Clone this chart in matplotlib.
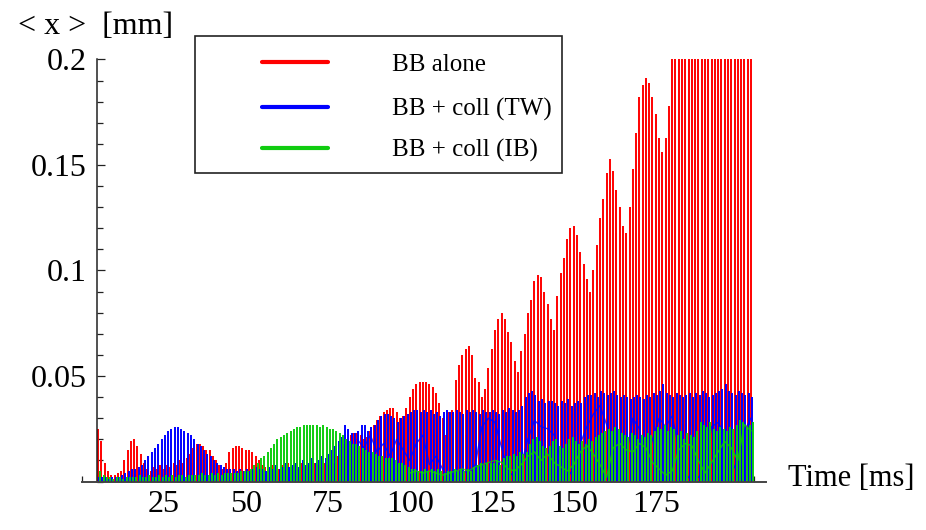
import matplotlib.pyplot as plt
import numpy as np
from matplotlib.lines import Line2D
from matplotlib.patches import Rectangle
from matplotlib.ticker import MultipleLocator

plt.rcParams['font.family'] = ['Liberation Serif', 'DejaVu Serif']

# turn-by-turn beam centroid, one oscillation peak per ms starting at t0 (values in um)
t0 = 5
red_peak = [
    25, 19, 9, 5, 3, 3, 4, 5, 10, 15,
    19, 20, 17, 13, 9, 6, 5, 7, 6, 8,
    6, 8, 7, 9, 8, 10, 9, 11, 13, 16,
    18, 18, 17, 15, 15, 12, 10, 8, 6, 9,
    14, 16, 17, 17, 16, 15, 15, 14, 12, 10,
    8, 7, 6, 8, 7, 6, 8, 7, 9, 7,
    8, 6, 9, 7, 8, 6, 9, 8, 7, 9,
    8, 10, 9, 12, 15, 18, 20, 22, 23, 23,
    22, 20, 21, 24, 27, 29, 31, 33, 34, 35,
    35, 33, 30, 31, 35, 40, 44, 46, 47, 47,
    47, 46, 45, 42, 37, 30, 22, 33, 34, 48,
    55, 60, 63, 64, 60, 49, 47, 40, 44, 54,
    63, 72, 77, 80, 77, 71, 66, 57, 52, 62,
    70, 80, 86, 95, 98, 97, 90, 84, 77, 72,
    88, 99, 106, 115, 120, 121, 117, 109, 103, 96,
    90, 100, 112, 125, 134, 146, 153, 147, 138, 130,
    121, 118, 130, 148, 165, 182, 188, 191, 189, 182,
    174, 163, 156, 163, 178, 215, 260, 240, 300, 280,
    250, 320, 290, 270, 340, 300, 260, 310, 350, 280,
    330, 290, 360, 310, 270, 340, 300, 380, 320, 290,
]
blue_peak = [
    2, 2, 2, 1, 2, 2, 2, 3, 4, 5,
    6, 6, 7, 8, 10, 12, 14, 16, 18, 20,
    22, 24, 25, 26, 26, 25, 24, 23, 22, 20,
    18, 17, 15, 13, 12, 10, 9, 8, 7, 6,
    6, 6, 5, 6, 5, 6, 5, 6, 7, 6,
    6, 5, 7, 6, 8, 6, 7, 9, 7, 8,
    9, 7, 10, 8, 9, 11, 9, 10, 12, 11,
    13, 15, 17, 19, 21, 27, 25, 23, 23, 24,
    27, 27, 24, 26, 27, 29, 31, 32, 32, 31,
    30, 28, 30, 31, 32, 33, 34, 34, 33, 34,
    33, 34, 32, 33, 31, 33, 34, 33, 33, 34,
    33, 32, 34, 33, 34, 33, 32, 34, 33, 33,
    34, 33, 32, 34, 33, 35, 34, 33, 34, 36,
    40, 42, 43, 41, 38, 39, 37, 38, 38, 37,
    36, 38, 37, 39, 36, 37, 38, 37, 40, 41,
    41, 42, 40, 43, 42, 41, 42, 43, 41, 40,
    41, 40, 39, 40, 41, 40, 39, 41, 40, 42,
    41, 43, 46, 42, 41, 40, 42, 41, 40, 41,
    42, 40, 42, 41, 43, 42, 40, 41, 42, 43,
    44, 46, 43, 42, 41, 43, 42, 41, 42, 40,
]
green_peak = [
    5, 3, 2, 2, 1, 2, 2, 1, 2, 2,
    2, 2, 3, 2, 2, 3, 2, 2, 3, 2,
    3, 2, 3, 2, 3, 3, 2, 3, 3, 3,
    3, 4, 3, 3, 4, 3, 4, 3, 4, 4,
    4, 4, 4, 5, 5, 5, 6, 8, 9, 11,
    12, 14, 16, 18, 20, 21, 22, 23, 24, 25,
    26, 26, 27, 27, 27, 27, 27, 26, 27, 26,
    25, 25, 24, 23, 22, 20, 19, 18, 18, 17,
    16, 15, 14, 14, 13, 12, 12, 11, 11, 11,
    10, 9, 9, 8, 7, 6, 6, 5, 5, 6,
    5, 6, 5, 6, 5, 4, 5, 5, 6, 5,
    6, 5, 6, 5, 7, 8, 9, 8, 9, 9,
    9, 10, 8, 11, 12, 12, 13, 12, 14, 13,
    14, 18, 20, 21, 19, 17, 16, 17, 19, 20,
    17, 16, 18, 20, 21, 19, 18, 19, 18, 20,
    19, 21, 22, 23, 24, 25, 24, 26, 25, 23,
    22, 21, 23, 22, 20, 22, 21, 23, 22, 24,
    26, 25, 27, 24, 26, 25, 22, 24, 20, 23,
    22, 21, 24, 28, 27, 26, 28, 25, 24, 26,
    25, 24, 26, 25, 27, 29, 28, 26, 27, 28,
]

# slowly drifting samples that show up as a wandering curve (every 2 ms, um)
blue_slow_t0 = 84
blue_slow = [
    20, 16, 22, 14, 18, 12, 20, 15, 10, 18, 22, 8, 12, 6, 1, 3, 5, 4, 8, 26,
    30, 28, 16, 5, 2, 8, 20, 29, 26, 25, 22, 12, 2, 6, 18, 26, 32, 36, 27, 18,
    3, 12, 30, 25, 8, 20, 30, 26, 31, 16, 4, 0, 2, 6, 26, 28, 22, 4, 10, 24, 30,
]
green_slow_t0 = 100
green_slow = [
    4, 5, 4, 5, 4, 3, 4, 5, 6, 5, 7, 8, 9, 10, 9,
    6, 5, 8, 12, 14, 10, 13, 9, 7, 5, 8, 14, 17, 13, 8,
    2, 16, 18, 15, 14, 18, 16, 9, 6, 3, 5, 15, 18, 17, 10,
    4, 9, 14, 19, 16, 10, 27, 24,
]

labels = ['BB alone', 'BB + coll (TW)', 'BB + coll (IB)']
colors = ['#ff0000', '#0000ff', '#10cc10']

fig = plt.figure(figsize=(9.26, 5.30), dpi=100)
W, H = 926, 530
ax = fig.add_axes([81.7 / W, 48.5 / H, 684.3 / W, 422 / H])

# each oscillation peak is drawn as a spike from the axis; series are staggered a little in time
for peaks, shift, c in zip([red_peak, blue_peak, green_peak], [0.0, 0.33, 0.66], colors):
    p = np.asarray(peaks, float) * 1e-3
    t = t0 + shift + np.arange(len(p))
    ax.vlines(t, 0, p, color=c, lw=1.4)
    if c == colors[1]:
        ts = blue_slow_t0 + 2 * np.arange(len(blue_slow))
        ax.plot(ts, np.asarray(blue_slow) * 1e-3, color=c, lw=1.0, alpha=0.8)
    if c == colors[2]:
        ts = green_slow_t0 + 2 * np.arange(len(green_slow))
        ax.plot(ts, np.asarray(green_slow) * 1e-3, color=c, lw=1.0, alpha=0.8)

ax.set_xlim(0, 208.6)
ax.set_ylim(0, 0.2)

for s in ['top', 'right']:
    ax.spines[s].set_visible(False)
ax.spines['left'].set_position(('data', 4.8))
ax.spines['left'].set_color('#222222')
ax.spines['bottom'].set_color('#444444')
ax.spines['left'].set_linewidth(1.1)
ax.spines['bottom'].set_linewidth(1.4)

ax.set_xticks([25, 50, 75, 100, 125, 150, 175])
ax.xaxis.set_minor_locator(MultipleLocator(5))
ax.set_yticks([0.05, 0.1, 0.15, 0.2])
ax.set_yticklabels(['0.05', '0.1', '0.15', '0.2'])
ax.yaxis.set_minor_locator(MultipleLocator(0.01))
ax.tick_params(which='both', direction='in', width=0.9, colors='#222222', labelcolor='black')
ax.tick_params(which='major', length=6, labelsize=23)
ax.tick_params(which='minor', length=4)
ax.tick_params(axis='x', pad=6)
ax.tick_params(axis='y', pad=8)

fig.text(18 / W, 1 - 26 / H, '< x >  [mm]', fontsize=23, va='center', ha='left')
fig.text(788 / W, 1 - 478 / H, 'Time [ms]', fontsize=22, va='center', ha='left')

# legend box
fig.add_artist(Rectangle((195 / W, 1 - 173 / H), 367 / W, 137 / H, transform=fig.transFigure,
                         fill=True, facecolor='white', edgecolor='#222222', lw=1.2, zorder=5))
for lab, c, yl, yt in zip(labels, colors, [62.3, 106.7, 147.7], [65, 109, 150]):
    fig.add_artist(Line2D([262 / W, 328 / W], [1 - yl / H, 1 - yl / H], transform=fig.transFigure,
                          color=c, lw=3, solid_capstyle='round', zorder=6))
    fig.text(392 / W, 1 - yt / H, lab, fontsize=18, va='center', ha='left', zorder=6)

fig.savefig('out.png', dpi=100)
